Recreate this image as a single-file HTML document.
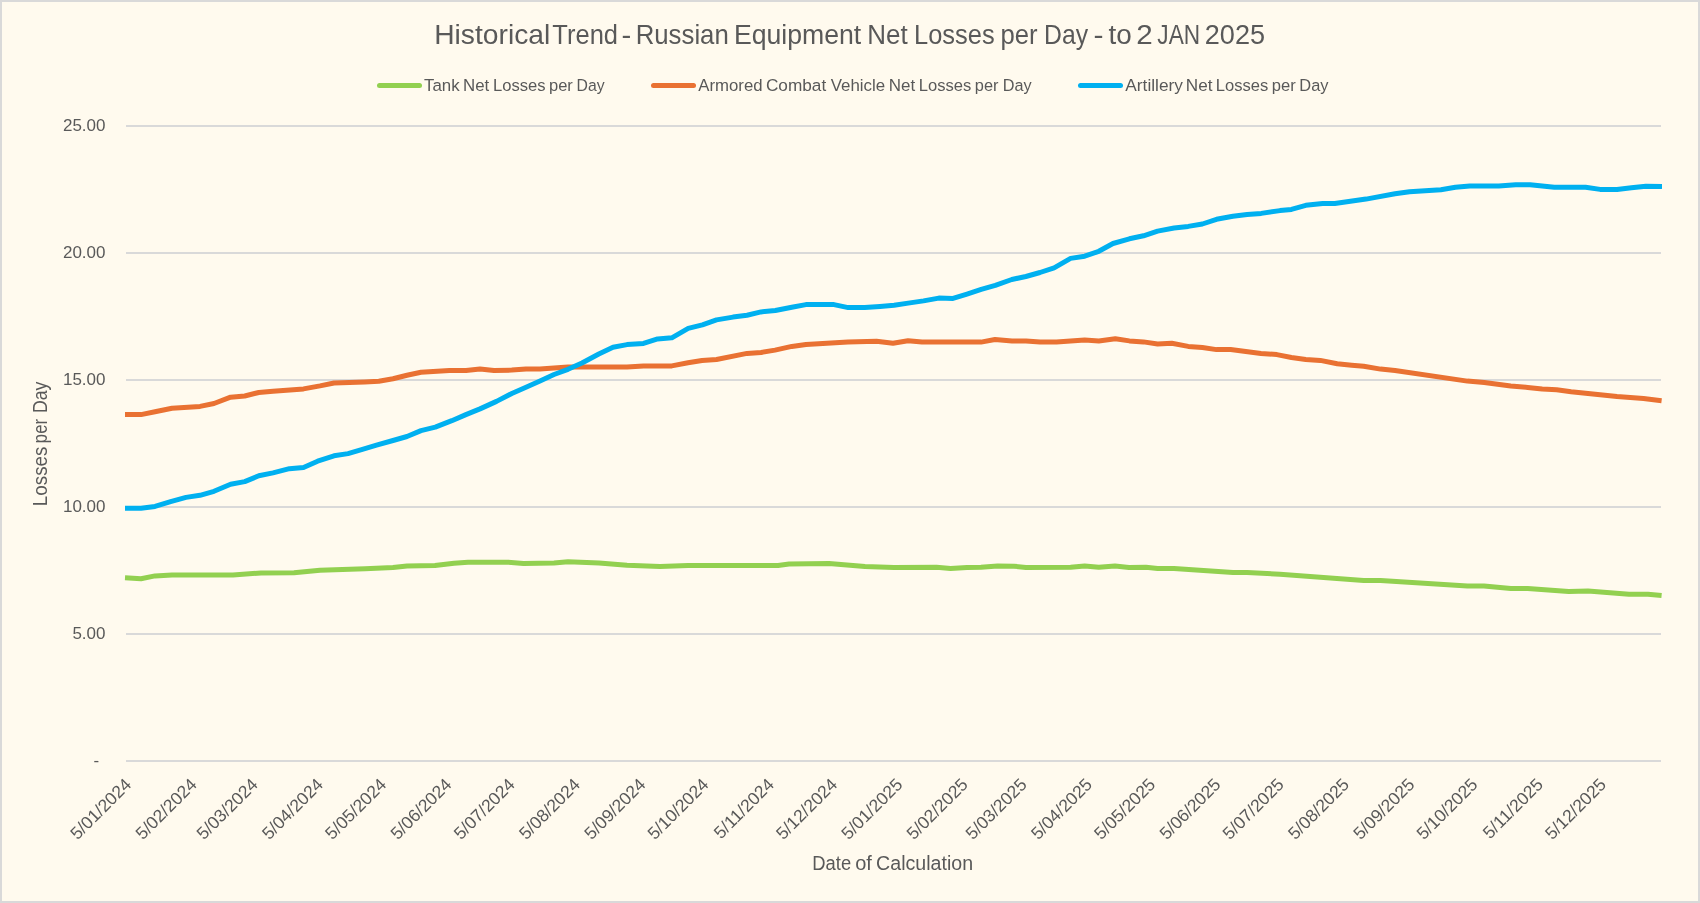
<!DOCTYPE html>
<html><head><meta charset="utf-8"><style>
html,body{margin:0;padding:0;background:#D9D9D9;}
body{width:1700px;height:903px;overflow:hidden;}
svg{display:block;will-change:transform;}
text{font-family:"Liberation Sans",sans-serif;fill:#595959;}
</style></head><body>
<svg width="1700" height="903" viewBox="0 0 1700 903">
<rect x="0" y="0" width="1700" height="903" fill="#D9D9D9"/>
<rect x="2" y="2" width="1696" height="899" fill="#FFFAEE"/>

<line x1="126" y1="126" x2="1661" y2="126" stroke="#D9D9D9" stroke-width="2"/>
<line x1="126" y1="253" x2="1661" y2="253" stroke="#D9D9D9" stroke-width="2"/>
<line x1="126" y1="380" x2="1661" y2="380" stroke="#D9D9D9" stroke-width="2"/>
<line x1="126" y1="507" x2="1661" y2="507" stroke="#D9D9D9" stroke-width="2"/>
<line x1="126" y1="634" x2="1661" y2="634" stroke="#D9D9D9" stroke-width="2"/>
<line x1="126" y1="761" x2="1661" y2="761" stroke="#D9D9D9" stroke-width="2"/>
<text x="105.5" y="131" font-size="17" text-anchor="end">25.00</text>
<text x="105.5" y="258" font-size="17" text-anchor="end">20.00</text>
<text x="105.5" y="385" font-size="17" text-anchor="end">15.00</text>
<text x="105.5" y="512" font-size="17" text-anchor="end">10.00</text>
<text x="105.5" y="639" font-size="17" text-anchor="end">5.00</text>
<text x="99.2" y="766" font-size="17" text-anchor="end">-</text>
<text x="434.19" y="44" font-size="27.5" textLength="116.07" lengthAdjust="spacingAndGlyphs">Historical</text>
<text x="552.34" y="44" font-size="27.5" textLength="65.67" lengthAdjust="spacingAndGlyphs">Trend</text>
<text x="621.51" y="44" font-size="27.5" textLength="9.75" lengthAdjust="spacingAndGlyphs">-</text>
<text x="635.69" y="44" font-size="27.5" textLength="93.08" lengthAdjust="spacingAndGlyphs">Russian</text>
<text x="733.92" y="44" font-size="27.5" textLength="127.37" lengthAdjust="spacingAndGlyphs">Equipment</text>
<text x="867.37" y="44" font-size="27.5" textLength="40.39" lengthAdjust="spacingAndGlyphs">Net</text>
<text x="914.01" y="44" font-size="27.5" textLength="80.61" lengthAdjust="spacingAndGlyphs">Losses</text>
<text x="1000.46" y="44" font-size="27.5" textLength="37.09" lengthAdjust="spacingAndGlyphs">per</text>
<text x="1044.07" y="44" font-size="27.5" textLength="43.99" lengthAdjust="spacingAndGlyphs">Day</text>
<text x="1093.48" y="44" font-size="27.5" textLength="10.02" lengthAdjust="spacingAndGlyphs">-</text>
<text x="1108.61" y="44" font-size="27.5" textLength="23.26" lengthAdjust="spacingAndGlyphs">to</text>
<text x="1136.22" y="44" font-size="27.5" textLength="16.47" lengthAdjust="spacingAndGlyphs">2</text>
<text x="1157.34" y="44" font-size="27.5" textLength="42.75" lengthAdjust="spacingAndGlyphs">JAN</text>
<text x="1204.74" y="44" font-size="27.5" textLength="60.31" lengthAdjust="spacingAndGlyphs">2025</text>
<line x1="379.5" y1="85.5" x2="419.5" y2="85.5" stroke="#92D050" stroke-width="5" stroke-linecap="round"/>
<line x1="653.5" y1="85.5" x2="693.5" y2="85.5" stroke="#E97132" stroke-width="5" stroke-linecap="round"/>
<line x1="1080.5" y1="85.5" x2="1120.5" y2="85.5" stroke="#00B0F0" stroke-width="5" stroke-linecap="round"/>
<text x="424.03" y="90.9" font-size="17.4" textLength="35.64" lengthAdjust="spacingAndGlyphs">Tank</text>
<text x="463.02" y="90.9" font-size="17.4" textLength="26.18" lengthAdjust="spacingAndGlyphs">Net</text>
<text x="493.04" y="90.9" font-size="17.4" textLength="52.57" lengthAdjust="spacingAndGlyphs">Losses</text>
<text x="549.04" y="90.9" font-size="17.4" textLength="23.84" lengthAdjust="spacingAndGlyphs">per</text>
<text x="576.61" y="90.9" font-size="17.4" textLength="28.03" lengthAdjust="spacingAndGlyphs">Day</text>
<text x="698.27" y="90.9" font-size="17.4" textLength="64.31" lengthAdjust="spacingAndGlyphs">Armored</text>
<text x="765.94" y="90.9" font-size="17.4" textLength="60.25" lengthAdjust="spacingAndGlyphs">Combat</text>
<text x="830.73" y="90.9" font-size="17.4" textLength="54.42" lengthAdjust="spacingAndGlyphs">Vehicle</text>
<text x="888.81" y="90.9" font-size="17.4" textLength="26.40" lengthAdjust="spacingAndGlyphs">Net</text>
<text x="918.74" y="90.9" font-size="17.4" textLength="52.57" lengthAdjust="spacingAndGlyphs">Losses</text>
<text x="974.85" y="90.9" font-size="17.4" textLength="23.63" lengthAdjust="spacingAndGlyphs">per</text>
<text x="1002.67" y="90.9" font-size="17.4" textLength="28.87" lengthAdjust="spacingAndGlyphs">Day</text>
<text x="1125.37" y="90.9" font-size="17.4" textLength="57.56" lengthAdjust="spacingAndGlyphs">Artillery</text>
<text x="1185.80" y="90.9" font-size="17.4" textLength="26.61" lengthAdjust="spacingAndGlyphs">Net</text>
<text x="1215.84" y="90.9" font-size="17.4" textLength="52.46" lengthAdjust="spacingAndGlyphs">Losses</text>
<text x="1271.84" y="90.9" font-size="17.4" textLength="23.95" lengthAdjust="spacingAndGlyphs">per</text>
<text x="1299.35" y="90.9" font-size="17.4" textLength="29.18" lengthAdjust="spacingAndGlyphs">Day</text>
<text x="812.29" y="869.8" font-size="20" textLength="38.82" lengthAdjust="spacingAndGlyphs">Date</text>
<text x="855.16" y="869.8" font-size="20" textLength="16.70" lengthAdjust="spacingAndGlyphs">of</text>
<text x="876.12" y="869.8" font-size="20" textLength="96.92" lengthAdjust="spacingAndGlyphs">Calculation</text>
<g transform="translate(47.4,0) rotate(-90)"><text x="-506.14" y="0" font-size="20" textLength="59.63" lengthAdjust="spacingAndGlyphs">Losses</text><text x="-443.17" y="0" font-size="20" textLength="24.16" lengthAdjust="spacingAndGlyphs">per</text><text x="-412.95" y="0" font-size="20" textLength="31.39" lengthAdjust="spacingAndGlyphs">Day</text></g>
<text transform="translate(132.50,785.5) rotate(-45)" font-size="17.5" text-anchor="end">5/01/2024</text>
<text transform="translate(197.81,785.5) rotate(-45)" font-size="17.5" text-anchor="end">5/02/2024</text>
<text transform="translate(258.91,785.5) rotate(-45)" font-size="17.5" text-anchor="end">5/03/2024</text>
<text transform="translate(324.22,785.5) rotate(-45)" font-size="17.5" text-anchor="end">5/04/2024</text>
<text transform="translate(387.42,785.5) rotate(-45)" font-size="17.5" text-anchor="end">5/05/2024</text>
<text transform="translate(452.73,785.5) rotate(-45)" font-size="17.5" text-anchor="end">5/06/2024</text>
<text transform="translate(515.94,785.5) rotate(-45)" font-size="17.5" text-anchor="end">5/07/2024</text>
<text transform="translate(581.25,785.5) rotate(-45)" font-size="17.5" text-anchor="end">5/08/2024</text>
<text transform="translate(646.56,785.5) rotate(-45)" font-size="17.5" text-anchor="end">5/09/2024</text>
<text transform="translate(709.76,785.5) rotate(-45)" font-size="17.5" text-anchor="end">5/10/2024</text>
<text transform="translate(775.07,785.5) rotate(-45)" font-size="17.5" text-anchor="end">5/11/2024</text>
<text transform="translate(838.28,785.5) rotate(-45)" font-size="17.5" text-anchor="end">5/12/2024</text>
<text transform="translate(903.59,785.5) rotate(-45)" font-size="17.5" text-anchor="end">5/01/2025</text>
<text transform="translate(968.90,785.5) rotate(-45)" font-size="17.5" text-anchor="end">5/02/2025</text>
<text transform="translate(1027.89,785.5) rotate(-45)" font-size="17.5" text-anchor="end">5/03/2025</text>
<text transform="translate(1093.20,785.5) rotate(-45)" font-size="17.5" text-anchor="end">5/04/2025</text>
<text transform="translate(1156.41,785.5) rotate(-45)" font-size="17.5" text-anchor="end">5/05/2025</text>
<text transform="translate(1221.72,785.5) rotate(-45)" font-size="17.5" text-anchor="end">5/06/2025</text>
<text transform="translate(1284.92,785.5) rotate(-45)" font-size="17.5" text-anchor="end">5/07/2025</text>
<text transform="translate(1350.23,785.5) rotate(-45)" font-size="17.5" text-anchor="end">5/08/2025</text>
<text transform="translate(1415.54,785.5) rotate(-45)" font-size="17.5" text-anchor="end">5/09/2025</text>
<text transform="translate(1478.75,785.5) rotate(-45)" font-size="17.5" text-anchor="end">5/10/2025</text>
<text transform="translate(1544.06,785.5) rotate(-45)" font-size="17.5" text-anchor="end">5/11/2025</text>
<text transform="translate(1607.26,785.5) rotate(-45)" font-size="17.5" text-anchor="end">5/12/2025</text>
<polyline points="125.0,577.8 141.0,578.7 155.0,575.9 172.0,575.0 233.0,575.0 261.0,573.0 294.0,572.8 320.0,570.2 365.0,568.8 393.0,567.6 407.0,566.0 435.0,565.5 454.0,563.2 468.0,562.2 508.0,562.2 523.5,563.4 554.0,563.0 568.0,561.8 599.0,563.0 627.0,565.3 660.0,566.5 688.0,565.5 778.0,565.5 789.0,564.1 829.0,563.6 865.0,566.5 894.0,567.4 936.5,567.2 950.6,568.4 967.0,567.4 981.0,567.2 997.6,566.0 1014.0,566.2 1026.0,567.4 1070.6,567.2 1084.7,566.0 1098.8,567.2 1115.0,566.0 1129.0,567.4 1146.0,567.2 1157.6,568.4 1174.0,568.4 1233.0,572.4 1247.0,572.4 1280.0,574.2 1363.7,580.5 1380.6,580.5 1467.4,586.0 1484.0,586.0 1510.8,588.5 1527.7,588.5 1568.7,591.4 1588.0,590.9 1629.0,594.2 1648.0,594.2 1661.6,595.5" fill="none" stroke="#92D050" stroke-width="5" stroke-linejoin="round" stroke-linecap="butt"/>
<polyline points="125.0,414.6 141.0,414.6 155.0,411.8 172.0,408.2 200.0,406.4 214.0,403.5 230.6,397.2 244.7,396.0 258.8,392.5 273.0,391.3 303.5,388.9 320.0,385.9 334.0,383.0 364.7,381.9 378.8,381.2 393.0,378.8 407.0,375.3 421.0,372.2 449.4,370.4 466.0,370.4 480.0,369.0 494.0,370.4 511.8,370.1 526.0,369.0 540.0,369.0 568.0,367.0 582.0,367.0 627.0,367.0 643.5,365.9 671.8,365.9 688.0,362.8 702.0,360.5 716.5,359.5 747.0,353.4 761.0,352.5 775.0,350.1 791.8,346.4 806.0,344.5 848.0,341.9 876.5,341.2 893.0,343.3 908.0,340.7 922.0,342.1 981.0,342.1 995.0,339.5 1012.0,340.9 1026.0,340.9 1040.0,342.1 1056.5,342.1 1084.7,340.0 1098.8,340.9 1115.3,338.8 1129.4,340.9 1143.5,341.9 1157.6,344.0 1171.8,343.3 1188.2,346.4 1202.4,347.5 1216.5,349.6 1230.6,349.6 1261.0,353.4 1276.9,354.6 1291.4,357.5 1305.8,359.4 1320.3,360.4 1337.2,363.8 1351.7,365.2 1363.7,366.2 1380.6,369.1 1395.0,370.5 1467.4,381.1 1484.3,382.6 1510.8,386.0 1527.7,387.4 1542.2,388.9 1556.7,389.8 1571.1,391.7 1585.6,393.2 1617.0,396.6 1643.5,398.5 1661.6,400.7" fill="none" stroke="#E97132" stroke-width="5" stroke-linejoin="round" stroke-linecap="butt"/>
<polyline points="125.0,508.2 141.0,508.2 155.0,506.4 170.6,501.6 186.0,497.4 200.0,495.3 214.0,491.3 230.6,484.2 244.7,481.6 258.8,475.8 273.0,472.9 289.4,468.7 303.5,467.5 317.6,461.2 334.0,455.8 348.0,453.6 362.4,449.4 376.5,445.2 393.0,440.5 407.0,436.5 421.0,430.6 435.3,427.1 451.8,420.7 465.9,414.6 480.0,408.9 496.5,401.4 511.8,393.5 526.0,387.3 540.0,380.9 554.0,374.5 568.0,369.3 582.0,363.0 598.8,354.0 613.0,347.2 627.0,344.6 643.5,343.4 657.6,338.9 671.8,337.8 688.2,328.4 702.4,324.8 716.5,319.9 733.0,317.1 747.0,315.2 761.0,311.9 775.3,310.5 791.8,307.2 805.9,304.6 834.0,304.6 848.2,307.6 864.7,307.6 880.0,306.4 894.1,305.2 908.2,303.1 923.5,300.9 938.8,298.1 953.0,298.4 967.0,294.1 981.2,289.4 995.3,285.4 1011.8,279.5 1025.9,276.5 1040.0,272.5 1054.1,267.8 1070.6,258.4 1084.7,256.2 1098.8,251.3 1113.0,243.5 1129.4,238.8 1143.5,235.8 1157.6,231.1 1174.1,228.0 1188.2,226.4 1202.4,224.0 1216.5,219.3 1232.9,216.2 1247.1,214.4 1261.2,213.4 1280.0,210.6 1291.4,209.4 1305.8,205.3 1322.7,203.4 1334.8,203.4 1366.0,199.1 1395.0,193.8 1409.5,191.8 1440.9,189.7 1455.4,187.3 1469.8,186.0 1498.8,186.0 1515.7,184.8 1530.1,184.8 1554.3,187.3 1585.6,187.3 1600.1,189.4 1617.0,189.4 1631.4,187.7 1645.9,186.2 1662.0,186.5" fill="none" stroke="#00B0F0" stroke-width="5" stroke-linejoin="round" stroke-linecap="butt"/>
</svg></body></html>
